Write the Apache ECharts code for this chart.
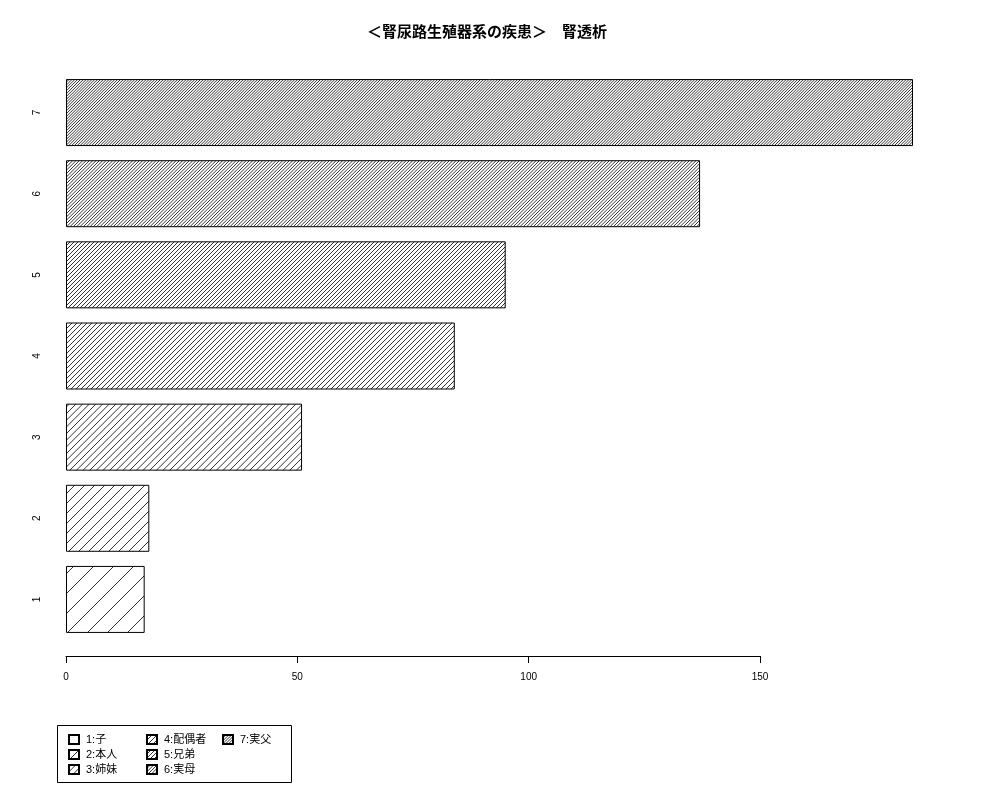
<!DOCTYPE html>
<html>
<head>
<meta charset="utf-8">
<script src="https://cdn.jsdelivr.net/npm/echarts@6/dist/echarts.min.js"></script>
<style>
  html, body { margin: 0; padding: 0; background: #fff; }
  #chart { width: 1000px; height: 800px; }
</style>
</head>
<body>
<div id="chart"></div>
<script>
const categories = ["1", "2", "3", "4", "5", "6", "7"];
const values = [17, 18, 51, 84, 95, 137, 183];
const legendNames = ["1:子", "2:本人", "3:姉妹", "4:配偶者", "5:兄弟", "6:実母", "7:実父"];
const xTicks = [0, 50, 100, 150];

const FONT = "'Liberation Sans', 'Noto Sans CJK JP', sans-serif";

// diagonal hatch tile, k lines per 20px
function hatch(k) {
  const size = 20;
  const c = document.createElement("canvas");
  c.width = size;
  c.height = size;
  const ctx = c.getContext("2d");
  ctx.fillStyle = "#fff";
  ctx.fillRect(0, 0, size, size);
  ctx.strokeStyle = "#000";
  ctx.lineWidth = 0.8;
  const step = size / k;
  for (let o = -size; o <= size; o += step) {
    ctx.beginPath();
    ctx.moveTo(o, size);
    ctx.lineTo(o + size, 0);
    ctx.stroke();
  }
  return { image: c, repeat: "repeat" };
}

const series = values.map(function (v, i) {
  return {
    name: legendNames[i],
    type: "bar",
    xAxisIndex: 0,
    yAxisIndex: 0,
    barGap: "-100%",
    barWidth: 67,
    data: values.map((d, j) => (j === i ? d : "-")),
    itemStyle: {
      color: hatch(i + 1),
      borderColor: "#000",
      borderWidth: 1
    },
    emphasis: { disabled: true }
  };
});

function legendCol(names, left) {
  return {
    data: names,
    orient: "vertical",
    left: left,
    top: 734,
    padding: 0,
    itemGap: 4,
    itemWidth: 10,
    itemHeight: 9,
    icon: "rect",
    selectedMode: false,
    textStyle: { fontSize: 11, color: "#000", fontFamily: FONT, padding: [0, 0, 0, 2] }
  };
}

const chart = echarts.init(document.getElementById("chart"), null, { renderer: "canvas" });

chart.setOption({
  backgroundColor: "#fff",
  animation: false,
  title: {
    text: "＜腎尿路生殖器系の疾患＞　腎透析",
    left: 362,
    top: 20,
    textStyle: { fontSize: 15, fontWeight: "bold", color: "#000", fontFamily: FONT }
  },
  legend: [
    legendCol(legendNames.slice(0, 3), 68),
    legendCol(legendNames.slice(3, 6), 146),
    legendCol(legendNames.slice(6), 222)
  ],
  grid: [
    { left: 66, right: 87, top: 72, bottom: 160 },
    { left: 66, width: 694, top: 72, bottom: 144 }
  ],
  xAxis: [
    {
      gridIndex: 0,
      type: "value",
      min: 0,
      max: Math.max.apply(null, values),
      show: false
    },
    {
      gridIndex: 1,
      type: "value",
      min: xTicks[0],
      max: xTicks[xTicks.length - 1],
      interval: 50,
      axisLine: { show: true, lineStyle: { color: "#000", width: 1 } },
      axisTick: { show: true, length: 7, lineStyle: { color: "#000" } },
      axisLabel: { color: "#000", fontSize: 10, fontFamily: FONT, margin: 16 },
      splitLine: { show: false }
    }
  ],
  yAxis: [
    {
      gridIndex: 0,
      type: "category",
      data: categories,
      axisLine: { show: false },
      axisTick: { show: false },
      axisLabel: { rotate: 90, color: "#000", fontSize: 10, fontFamily: FONT, margin: 24 }
    },
    {
      gridIndex: 1,
      type: "value",
      show: false
    }
  ],
  graphic: [
    {
      type: "rect",
      shape: { x: 57.5, y: 725.5, width: 234, height: 57 },
      style: { fill: null, stroke: "#000", lineWidth: 1 },
      silent: true
    }
  ],
  series: series
});
</script>
</body>
</html>
